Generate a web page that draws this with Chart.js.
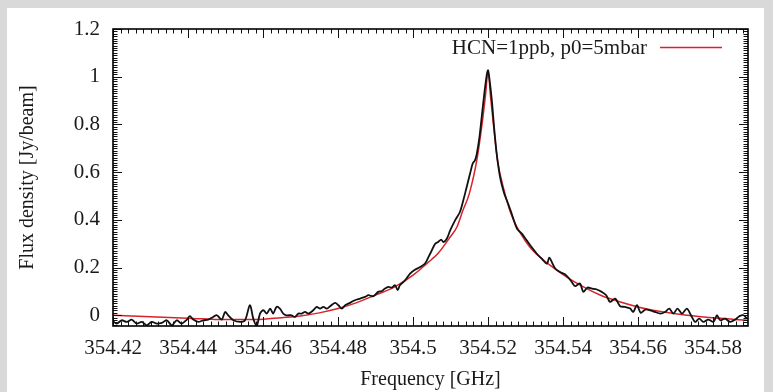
<!DOCTYPE html>
<html>
<head>
<meta charset="utf-8">
<script src="https://cdn.jsdelivr.net/npm/chart.js@4/dist/chart.umd.min.js"></script>
<style>
  html, body { margin: 0; padding: 0; background: #d9d9d9; overflow: hidden; }
  #card { position: absolute; left: 7px; top: 8px; right: 9px; bottom: 0; background: #fff; }
  #c { position: absolute; left: 0; top: 0; }
</style>
</head>
<body>
<div id="card"></div>
<canvas id="c" width="773" height="392"></canvas>
<script>
// HCN line spectrum: observed (black) vs model (red)

const freqObs = [
  354.4200, 354.4210, 354.4223, 354.4237, 354.4250, 354.4263, 354.4277, 354.4290, 354.4303, 354.4317,
  354.4330, 354.4343, 354.4357, 354.4370, 354.4383, 354.4397, 354.4405, 354.4414, 354.4427, 354.4441,
  354.4454, 354.4467, 354.4477, 354.4490, 354.4499, 354.4507, 354.4521, 354.4539, 354.4552, 354.4565,
  354.4574, 354.4583, 354.4592, 354.4601, 354.4610, 354.4619, 354.4627, 354.4636, 354.4645, 354.4654,
  354.4663, 354.4676, 354.4685, 354.4694, 354.4703, 354.4712, 354.4721, 354.4734, 354.4743, 354.4752,
  354.4761, 354.4770, 354.4779, 354.4792, 354.4801, 354.4810, 354.4819, 354.4832, 354.4845, 354.4859,
  354.4872, 354.4881, 354.4894, 354.4907, 354.4917, 354.4925, 354.4934, 354.4943, 354.4952, 354.4959,
  354.4965, 354.4979, 354.4992, 354.5005, 354.5019, 354.5032, 354.5041, 354.5050, 354.5059, 354.5067,
  354.5075, 354.5081, 354.5090, 354.5099, 354.5112, 354.5125, 354.5134, 354.5143, 354.5152, 354.5159,
  354.5165, 354.5170, 354.5177, 354.5183, 354.5190, 354.5197, 354.5200, 354.5203, 354.5210, 354.5216,
  354.5223, 354.5232, 354.5243, 354.5250, 354.5261, 354.5277, 354.5290, 354.5303, 354.5316, 354.5330,
  354.5343, 354.5357, 354.5363, 354.5370, 354.5379, 354.5392, 354.5405, 354.5414, 354.5423, 354.5432,
  354.5445, 354.5454, 354.5465, 354.5477, 354.5490, 354.5503, 354.5515, 354.5525, 354.5539, 354.5552,
  354.5565, 354.5579, 354.5587, 354.5597, 354.5607, 354.5619, 354.5632, 354.5645, 354.5659, 354.5672,
  354.5683, 354.5694, 354.5705, 354.5717, 354.5730, 354.5741, 354.5752, 354.5763, 354.5774, 354.5787,
  354.5801, 354.5810, 354.5819, 354.5832, 354.5845, 354.5859, 354.5870, 354.5881, 354.5890
];
const fluxObs = [
  -0.025, -0.035, -0.021, -0.028, -0.018, -0.035, -0.028, -0.042, -0.028, -0.035,
  -0.032, -0.021, -0.042, -0.021, -0.035, -0.018, -0.004, -0.018, -0.028, -0.021,
  -0.018, -0.007, 0.000, -0.018, 0.014, 0.000, -0.021, -0.028, -0.021, 0.042,
  -0.014, -0.045, 0.007, 0.021, 0.007, 0.028, 0.007, 0.035, 0.028, 0.007,
  0.000, 0.000, -0.007, 0.007, 0.007, 0.014, 0.007, 0.021, 0.035, 0.028,
  0.035, 0.028, 0.038, 0.052, 0.042, 0.028, 0.042, 0.052, 0.063, 0.070,
  0.077, 0.084, 0.080, 0.098, 0.102, 0.112, 0.119, 0.116, 0.126, 0.105,
  0.126, 0.147, 0.175, 0.191, 0.202, 0.217, 0.244, 0.272, 0.300, 0.307,
  0.317, 0.307, 0.321, 0.356, 0.398, 0.433, 0.482, 0.538, 0.594, 0.636,
  0.649, 0.677, 0.747, 0.831, 0.929, 1.013, 1.027, 0.999, 0.901, 0.789,
  0.677, 0.579, 0.510, 0.482, 0.435, 0.363, 0.342, 0.314, 0.286, 0.258,
  0.237, 0.216, 0.242, 0.223, 0.196, 0.181, 0.172, 0.158, 0.140, 0.122,
  0.133, 0.098, 0.116, 0.112, 0.108, 0.098, 0.084, 0.056, 0.070, 0.038,
  0.035, 0.028, 0.014, 0.042, 0.010, 0.024, 0.021, 0.014, 0.007, 0.014,
  0.028, 0.007, 0.028, 0.007, 0.028, 0.000, -0.028, -0.014, -0.028, -0.018,
  -0.028, 0.000, -0.021, -0.014, -0.028, -0.018, -0.004, 0.000, -0.014
];

const freqModel = [
  354.420, 354.430, 354.440, 354.450, 354.458, 354.465, 354.470, 354.475, 354.480, 354.485,
  354.490, 354.495, 354.500, 354.505, 354.5067, 354.510, 354.5117, 354.5133, 354.515, 354.517,
  354.5183, 354.5193, 354.520, 354.5207, 354.5215, 354.5225, 354.5245, 354.526, 354.5277, 354.530,
  354.532, 354.5365, 354.541, 354.5453, 354.550, 354.5544, 354.560, 354.564, 354.573, 354.582,
  354.589
];
const fluxModel = [
  0.000, -0.006, -0.012, -0.018, -0.018, -0.010, -0.003, 0.010, 0.028, 0.053,
  0.085, 0.118, 0.168, 0.235, 0.260, 0.330, 0.370, 0.440, 0.510, 0.650,
  0.790, 0.920, 1.020, 0.910, 0.790, 0.650, 0.510, 0.430, 0.370, 0.310,
  0.270, 0.210, 0.160, 0.120, 0.084, 0.060, 0.035, 0.021, 0.000, -0.013,
  -0.021
];

const xTicks = [354.42, 354.44, 354.46, 354.48, 354.50, 354.52, 354.54, 354.56, 354.58];
const xTickLabels = ['354.42', '354.44', '354.46', '354.48', '354.5', '354.52', '354.54', '354.56', '354.58'];
const yTicks = [0, 0.2, 0.4, 0.6, 0.8, 1.0, 1.2];
const yTickLabels = ['0', '0.2', '0.4', '0.6', '0.8', '1', '1.2'];
const modelLabel = 'HCN=1ppb, p0=5mbar';

const FONT = "'Liberation Serif', 'DejaVu Serif', serif";
const RED = '#d8232a';

// gnuplot-style frame with inward major/minor ticks on all four sides + key
const framePlugin = {
  id: 'frame',
  afterDatasetsDraw(chart) {
    const { ctx, chartArea: a, scales: { x, y } } = chart;
    ctx.save();
    ctx.strokeStyle = '#111';
    ctx.lineWidth = 1;
    ctx.beginPath();
    for (let v = 354.42; v <= x.max + 1e-9; v += 0.002) {
      const px = Math.round(x.getPixelForValue(v)) + 0.5;
      const major = Math.abs(Math.round(v / 0.02) * 0.02 - v) < 1e-6;
      const len = major ? 9 : 4.5;
      ctx.moveTo(px, a.bottom); ctx.lineTo(px, a.bottom - len);
      ctx.moveTo(px, a.top); ctx.lineTo(px, a.top + len);
    }
    for (let i = -4; i <= 120; i++) {
      const v = i / 100;
      const py = Math.round(y.getPixelForValue(v)) + 0.5;
      const len = i % 20 === 0 ? 9 : 4.5;
      ctx.moveTo(a.left, py); ctx.lineTo(a.left + len, py);
      ctx.moveTo(a.right, py); ctx.lineTo(a.right - len, py);
    }
    ctx.stroke();
    ctx.lineWidth = 1.6;
    ctx.strokeStyle = '#000';
    ctx.strokeRect(a.left, a.top, a.right - a.left, a.bottom - a.top);

    // key
    ctx.font = '21px ' + FONT;
    ctx.fillStyle = '#1a1a1a';
    ctx.textAlign = 'right';
    ctx.textBaseline = 'middle';
    ctx.fillText(modelLabel, a.right - 101, a.top + 19);
    ctx.strokeStyle = RED;
    ctx.lineWidth = 1.5;
    ctx.beginPath();
    ctx.moveTo(a.right - 88, a.top + 18.5);
    ctx.lineTo(a.right - 26, a.top + 18.5);
    ctx.stroke();
    ctx.restore();
  }
};

new Chart(document.getElementById('c'), {
  type: 'line',
  data: {
    datasets: [
      {
        label: 'observed',
        data: freqObs.map((f, i) => ({ x: f, y: fluxObs[i] })),
        borderColor: '#111',
        borderWidth: 1.8,
        pointRadius: 0,
        tension: 0.3,
        fill: false,
      },
      {
        label: modelLabel,
        data: freqModel.map((f, i) => ({ x: f, y: fluxModel[i] })),
        borderColor: RED,
        borderWidth: 1.5,
        pointRadius: 0,
        cubicInterpolationMode: 'monotone',
        fill: false,
      },
    ],
  },
  options: {
    responsive: false,
    animation: false,
    devicePixelRatio: 1,
    layout: { padding: { left: 0, top: 29, right: 25, bottom: 0 } },
    plugins: { legend: { display: false }, tooltip: { enabled: false } },
    scales: {
      x: {
        type: 'linear',
        min: 354.42,
        max: 354.5893,
        afterBuildTicks: s => { s.ticks = xTicks.map(v => ({ value: v })); },
        afterFit: s => { s.height = 66; },
        ticks: {
          callback: (v, i) => xTickLabels[i],
          font: { family: FONT, size: 21 },
          color: '#1a1a1a',
          padding: 10,
          maxRotation: 0,
          autoSkip: false,
        },
        grid: { display: false, drawTicks: false },
        border: { display: false },
        title: {
          display: true,
          text: 'Frequency [GHz]',
          font: { family: FONT, size: 20 },
          color: '#1a1a1a',
          padding: { top: 0, bottom: 0 },
        },
      },
      y: {
        type: 'linear',
        min: -0.045,
        max: 1.2,
        afterBuildTicks: s => { s.ticks = yTicks.map(v => ({ value: v })); },
        afterFit: s => { s.width = 113; },
        ticks: {
          callback: (v, i) => yTickLabels[i],
          font: { family: FONT, size: 21 },
          color: '#1a1a1a',
          padding: 13,
        },
        grid: { display: false, drawTicks: false },
        border: { display: false },
        title: {
          display: true,
          text: 'Flux density [Jy/beam]',
          font: { family: FONT, size: 20 },
          color: '#1a1a1a',
          padding: { top: 16, bottom: 0 },
        },
      },
    },
  },
  plugins: [framePlugin],
});
</script>
</body>
</html>
